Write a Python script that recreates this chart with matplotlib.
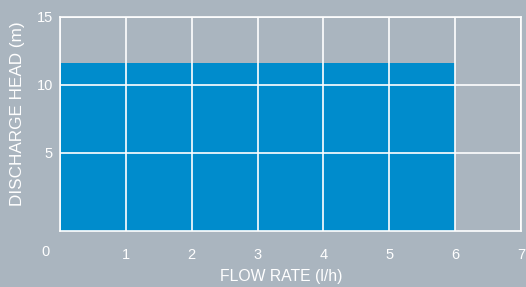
import matplotlib.pyplot as plt

# data
flow = [0, 1, 2, 3, 4, 5, 6]
head = [11.6, 11.6, 11.6, 11.6, 11.6, 11.6, 11.6]
xticks = [1, 2, 3, 4, 5, 6, 7]
yticks = [5, 10, 15]

bg = '#aab5bf'
blue = '#008ccc'

plt.rcParams['font.family'] = ['Liberation Sans', 'DejaVu Sans']

fig = plt.figure(figsize=(5.26, 2.87), dpi=100, facecolor=bg)
ax = fig.add_axes([60 / 526, 1 - 231 / 287, 461 / 526, 214 / 287])
ax.set_facecolor(bg)

ymin = -0.74
ax.set_xlim(0, 7)
ax.set_ylim(ymin, 15)
ax.fill_between(flow, ymin, head, color=blue, lw=0, zorder=1)

ax.set_xticks([0] + xticks)
ax.set_xticklabels([''] + [str(t) for t in xticks])
ax.set_yticks(yticks)
ax.grid(True, color='white', lw=1.2, zorder=2)
ax.set_axisbelow(False)
for s in ax.spines.values():
    s.set_color('white')
    s.set_linewidth(1.2)
    s.set_zorder(3)

ax.tick_params(length=0, colors='white', labelsize=10.5)
ax.tick_params(axis='x', pad=12)
ax.tick_params(axis='y', pad=5)

# origin label sits left of the axes corner
fig.text(45 / 526, 1 - 252 / 287, '0', color='white', fontsize=10.5, ha='center', va='center')

fig.text(281 / 526, 1 - 277 / 287, 'FLOW RATE (l/h)', color='white', fontsize=11.3,
         ha='center', va='center')
fig.text(18 / 526, 1 - 114 / 287, 'DISCHARGE HEAD (m)', color='white', fontsize=12.3,
         ha='center', va='center', rotation=90)

fig.savefig('out.png', dpi=100, facecolor=bg)
